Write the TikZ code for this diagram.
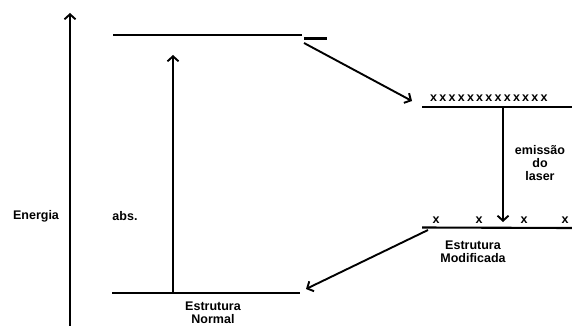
\documentclass[tikz,border=0pt]{standalone}
\usepackage{fontspec}
\setmainfont{Liberation Sans}
\usetikzlibrary{arrows.meta}
\tikzset{
  lvl/.style={line width=2.1pt},
  arr/.style={line width=1.9pt,-{Straight Barb[length=5pt,width=11pt,line width=1.9pt]}},
  lbl/.style={font=\fontsize{12.5}{13}\selectfont\bfseries,inner sep=0pt,align=center},
}
\begin{document}
\begin{tikzpicture}[x=1pt,y=-1pt]
\useasboundingbox (0,0) rectangle (572,326);
% energy axis
\coordinate (axb) at (70,326);
\coordinate (axt) at (70,13);
\draw[arr] (axb) -- (axt);
\node[lbl] (energia) at (36,216) {Energia};
% top level
\coordinate (t1) at (113,35);
\coordinate (t2) at (302,35);
\draw[lvl] (t1) -- (t2);
\coordinate (d1) at (304,38.5);
\coordinate (d2) at (327,38.5);
\draw[lvl] (d1) -- (d2);
% bottom level (normal)
\coordinate (b1) at (112,293);
\coordinate (b2) at (300,293);
\draw[lvl] (b1) -- (b2);
\node[lbl] (normal) at (213,313) {Estrutura\\Normal};
% absorption
\coordinate (absb) at (173,293);
\coordinate (abst) at (173,55);
\draw[arr] (absb) -- (abst);
\node[lbl] (abs) at (125,216) {abs.};
% middle level
\coordinate (m1) at (422,107);
\coordinate (m2) at (572,107);
\draw[lvl] (m1) -- (m2);
\node[lbl,anchor=west] (xs) at (430,98) {\def\xk{x\kern2.25pt}\xk\xk\xk\xk\xk\xk\xk\xk\xk\xk\xk\xk x};
% relaxation arrow
\coordinate (r1) at (304,43);
\coordinate (r2) at (412,101);
\draw[arr] (r1) -- (r2);
% lower level (modified)
\coordinate (l0) at (422,227.5);
\coordinate (l2) at (572,228);
\draw[lvl] (l0) -- (l2);
\foreach \i/\xx in {1/436,2/479,3/524,4/565} {
  \node[lbl] (x\i) at (\xx,220) {x};
}
\node[lbl] (modif) at (473,252) {Estrutura\\Modificada};
% laser emission
\coordinate (e1) at (503,107);
\coordinate (e2) at (503,222);
\draw[arr] (e1) -- (e2);
\node[lbl] (emis) at (540,163) {emissão\\do\\laser};
% return arrow
\coordinate (q1) at (428,230);
\coordinate (q2) at (306,289);
\draw[arr] (q1) -- (q2);
\end{tikzpicture}
\end{document}
